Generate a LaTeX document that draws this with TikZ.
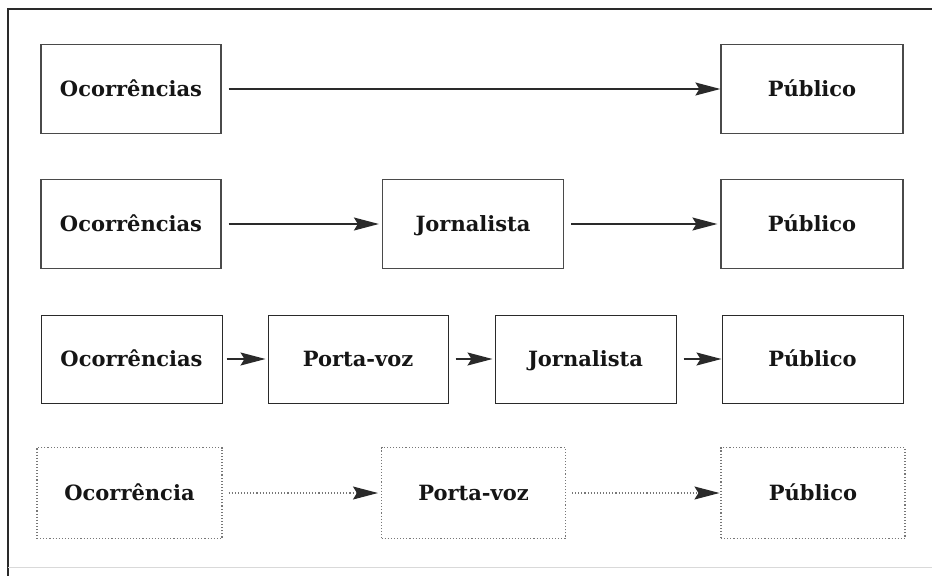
\documentclass[tikz,border=0pt]{standalone}
\usepackage{fontspec}
\setmainfont{DejaVu Serif}
\usetikzlibrary{arrows.meta}
\definecolor{boxline}{HTML}{4A4A4A}
\definecolor{darkline}{HTML}{2A2A2A}
\definecolor{dotline}{HTML}{777777}
\definecolor{ink}{HTML}{151515}
\tikzset{
  box/.style={draw=boxline, line width=1.2pt, minimum width=#1, minimum height=89pt, inner sep=0pt,
    text height=14.5pt, text depth=0.5pt,
    font=\fontsize{21}{24}\selectfont\bfseries, text=ink},
  darkbox/.style={box=#1, draw=darkline, line width=1pt},
  dotbox/.style={box=#1, draw=dotline, line width=1.1pt, dotted, minimum height=91pt},
  conn/.style={draw=darkline, line width=1.5pt, -{Stealth[length=25pt, width=13pt, inset=4pt]}},
  dotconn/.style={conn, draw=dotline, line width=1.1pt, dotted, -{Stealth[length=25pt, width=13pt, inset=4pt, fill=darkline, color=darkline]}},
}
\begin{document}
\begin{tikzpicture}[x=1pt,y=-1pt]
\useasboundingbox (0,0) rectangle (932,576);
% frame
\draw[darkline, line width=1.3pt] (932,9) -- (8,9) -- (8,576);
\draw[black!15, line width=0.8pt] (8,567) -- (932,567);
% row 1
\node[box=180pt] (o1) at (131,89) {Ocorrências};
\node[box=182pt] (p1) at (812,89) {Público};
\draw[conn] ([xshift=7pt]o1.east) -- (p1.west);
% row 2
\node[box=180pt] (o2) at (131,224) {Ocorrências};
\node[box=181pt] (j2) at (473,224) {Jornalista};
\node[box=182pt] (p2) at (812,224) {Público};
\draw[conn] ([xshift=7pt]o2.east) -- ([xshift=-3pt]j2.west);
\draw[conn] ([xshift=7pt]j2.east) -- ([xshift=-3pt]p2.west);
% row 3
\node[darkbox=181pt, minimum height=88pt] (o3) at (131.5,359) {Ocorrências};
\node[darkbox=180pt, minimum height=88pt] (v3) at (358,359) {Porta-voz};
\node[darkbox=181pt, minimum height=88pt] (j3) at (585.5,359) {Jornalista};
\node[darkbox=181pt, minimum height=88pt] (p3) at (812.5,359) {Público};
\draw[conn] ([xshift=4pt]o3.east) -- ([xshift=-2pt]v3.west);
\draw[conn] ([xshift=7pt]v3.east) -- ([xshift=-2pt]j3.west);
\draw[conn] ([xshift=7pt]j3.east) -- (p3.west);
% row 4
\node[dotbox=185pt] (o4) at (129.5,493) {Ocorrência};
\node[dotbox=184pt] (v4) at (473.5,493) {Porta-voz};
\node[dotbox=184pt] (p4) at (813,493) {Público};
\draw[dotconn] ([xshift=6pt]o4.east) -- ([xshift=-3pt]v4.west);
\draw[dotconn] ([xshift=6pt]v4.east) -- ([xshift=-1pt]p4.west);
\end{tikzpicture}
\end{document}
